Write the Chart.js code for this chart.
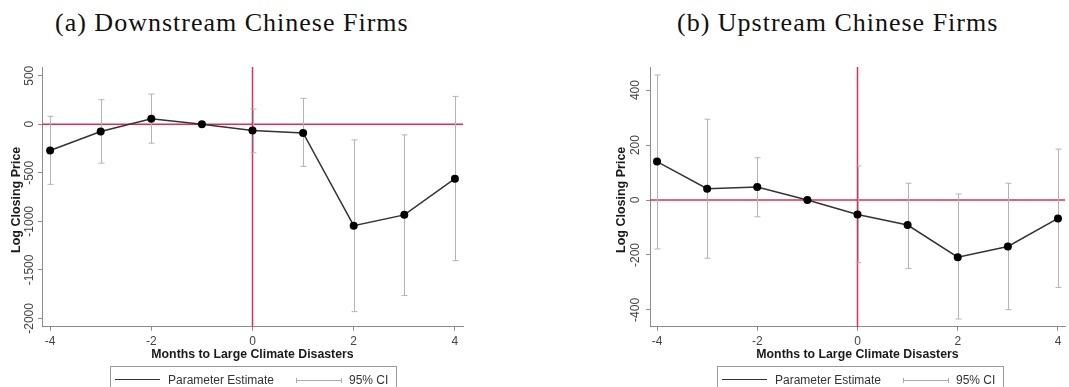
<!DOCTYPE html>
<html>
<head>
<meta charset="utf-8">
<script src="https://cdn.jsdelivr.net/npm/chart.js@4.4.0/dist/chart.umd.min.js"></script>
<style>
  html, body { margin: 0; padding: 0; background: #fff; }
  #page { position: relative; width: 1069px; height: 387px; overflow: hidden; background: #fff; }
  canvas { position: absolute; top: 0; }
  .title { position: absolute; top: 10px; font-family: "Liberation Serif", serif; font-size: 26px; line-height: 26px; letter-spacing: 1px; color: #111; white-space: nowrap; }
  .legend { position: absolute; top: 366px; width: 287px; height: 40px; border: 1px solid #9a9a9a; box-sizing: border-box;
            font-family: "Liberation Sans", Arial, sans-serif; font-size: 12px; color: #333; }
  .legend span { position: absolute; }
  .legend .txt { top: 5px; line-height: 16px; white-space: nowrap; }
  .legend .est { left: 4px; top: 12px; width: 45px; border-top: 1.5px solid #333; }
  .legend .ci { left: 185px; top: 13px; width: 46px; border-top: 1px solid #aaa; }
  .legend .cap { top: 11px; width: 0; height: 5px; border-left: 1px solid #aaa; }
</style>
</head>
<body>
<div id="page">
  <div class="title" style="left:55px">(a) Downstream Chinese Firms</div>
  <div class="title" style="left:677px">(b) Upstream Chinese Firms</div>

  <canvas id="chartA" width="530" height="387" style="left:0"></canvas>
  <canvas id="chartB" width="539" height="387" style="left:530px"></canvas>

  <div class="legend" style="left:110px">
    <span class="est"></span><span class="txt" style="left:57px">Parameter Estimate</span>
    <span class="ci"></span><span class="cap" style="left:185px"></span><span class="cap" style="left:230px"></span>
    <span class="txt" style="left:238px">95% CI</span>
  </div>
  <div class="legend" style="left:717px">
    <span class="est"></span><span class="txt" style="left:57px">Parameter Estimate</span>
    <span class="ci"></span><span class="cap" style="left:185px"></span><span class="cap" style="left:230px"></span>
    <span class="txt" style="left:238px">95% CI</span>
  </div>
</div>

<script>
// months relative to the disaster
const months = [-4, -3, -2, -1, 0, 1, 2, 3, 4];
const xTicks = [-4, -2, 0, 2, 4];

// (a) downstream firms
const downEstimate = [-270, -75, 58, 0, -65, -89, -1045, -933, -560];
const downCiLow    = [-619, -400, -195, null, -294, -434, -1930, -1764, -1405];
const downCiHigh   = [82, 253, 311, null, 157, 267, -161, -109, 287];
const downYTicks   = [-2000, -1500, -1000, -500, 0, 500];

// (b) upstream firms
const upEstimate = [140, 41, 47, 0, -53, -91, -208, -169, -67];
const upCiLow    = [-178, -212, -61, null, -228, -249, -433, -399, -318];
const upCiHigh   = [455, 294, 154, null, 124, 61, 22, 61, 185];
const upYTicks   = [-400, -200, 0, 200, 400];

const RED = '#dc2f5c';
const AXIS = '#8c8c8c';
const SANS = '"Liberation Sans", Arial, sans-serif';

function panelPlugin(p) {
  return {
    id: 'panel',
    beforeDatasetsDraw(chart) {
      const { ctx, chartArea: a, scales: { x, y } } = chart;
      ctx.save();
      // zero reference lines
      const x0 = x.getPixelForValue(0), y0 = y.getPixelForValue(0);
      ctx.strokeStyle = RED;
      ctx.lineWidth = 1.5;
      ctx.beginPath();
      ctx.moveTo(x0, a.top); ctx.lineTo(x0, a.bottom);
      ctx.moveTo(a.left, y0); ctx.lineTo(a.right, y0);
      ctx.stroke();
      // 95% CI whiskers
      ctx.strokeStyle = '#b4b4b4';
      ctx.lineWidth = 1;
      months.forEach((m, i) => {
        if (p.lo[i] == null) return;
        const px = Math.round(x.getPixelForValue(m)) + 0.5;
        const pLo = y.getPixelForValue(p.lo[i]);
        const pHi = y.getPixelForValue(p.hi[i]);
        ctx.beginPath();
        ctx.moveTo(px, pLo); ctx.lineTo(px, pHi);
        ctx.moveTo(px - 3, pLo); ctx.lineTo(px + 3, pLo);
        ctx.moveTo(px - 3, pHi); ctx.lineTo(px + 3, pHi);
        ctx.stroke();
      });
      ctx.restore();
    },
    afterDraw(chart) {
      const { ctx, chartArea: a, scales: { x, y } } = chart;
      ctx.save();
      ctx.textAlign = 'center';
      ctx.textBaseline = 'middle';
      // rotated y tick labels (Stata style)
      ctx.fillStyle = '#444';
      ctx.font = '12px ' + SANS;
      p.yTicks.forEach(v => {
        ctx.save();
        ctx.translate(a.left + p.labelOff, y.getPixelForValue(v));
        ctx.rotate(-Math.PI / 2);
        ctx.fillText(String(v), 0, 0);
        ctx.restore();
      });
      // axis titles
      ctx.fillStyle = '#1a1a1a';
      ctx.font = 'bold 12.5px ' + SANS;
      ctx.save();
      ctx.translate(a.left + p.titleOff, (a.top + a.bottom) / 2 + 3);
      ctx.rotate(-Math.PI / 2);
      ctx.fillText('Log Closing Price', 0, 0);
      ctx.restore();
      ctx.font = 'bold 12.3px ' + SANS;
      ctx.fillText('Months to Large Climate Disasters', (a.left + a.right) / 2, 355);
      ctx.restore();
    }
  };
}

function makeChart(id, p) {
  return new Chart(document.getElementById(id), {
    type: 'line',
    data: {
      datasets: [{
        label: 'Parameter Estimate',
        data: months.map((m, i) => ({ x: m, y: p.est[i] })),
        borderColor: '#333',
        borderWidth: 1.5,
        pointRadius: 4,
        pointBackgroundColor: '#000',
        pointBorderColor: '#000',
        pointBorderWidth: 0,
        tension: 0
      }]
    },
    options: {
      responsive: false,
      animation: false,
      devicePixelRatio: 1,
      layout: { padding: p.padding },
      plugins: { legend: { display: false }, tooltip: { enabled: false } },
      scales: {
        x: {
          type: 'linear',
          min: p.xMin, max: p.xMax,
          afterBuildTicks: s => { s.ticks = xTicks.map(v => ({ value: v })); },
          afterFit: s => { s.height = 20; },
          grid: { drawOnChartArea: false, drawTicks: true, tickLength: 4, color: AXIS },
          border: { display: true, color: AXIS, width: 1 },
          ticks: { color: '#444', font: { family: SANS, size: 12 }, padding: 4, maxRotation: 0, autoSkip: false,
                   callback: v => String(v) }
        },
        y: {
          type: 'linear',
          min: p.yMin, max: p.yMax,
          afterBuildTicks: s => { s.ticks = p.yTicks.map(v => ({ value: v })); },
          afterFit: s => { s.width = 4; },
          grid: { drawOnChartArea: false, drawTicks: true, tickLength: 4, color: AXIS },
          border: { display: true, color: AXIS, width: 1 },
          ticks: { display: false }
        }
      }
    },
    plugins: [panelPlugin(p)]
  });
}

makeChart('chartA', {
  est: downEstimate, lo: downCiLow, hi: downCiHigh, yTicks: downYTicks,
  xMin: -4.16, xMax: 4.16, yMin: -2085, yMax: 590,
  padding: { left: 38, top: 67, right: 67, bottom: 40.3 },
  labelOff: -12, titleOff: -25
});

makeChart('chartB', {
  est: upEstimate, lo: upCiLow, hi: upCiHigh, yTicks: upYTicks,
  xMin: -4.14, xMax: 4.14, yMin: -461, yMax: 484,
  padding: { left: 116, top: 67, right: 0, bottom: 40.3 },
  labelOff: -14, titleOff: -28
});
</script>
</body>
</html>
